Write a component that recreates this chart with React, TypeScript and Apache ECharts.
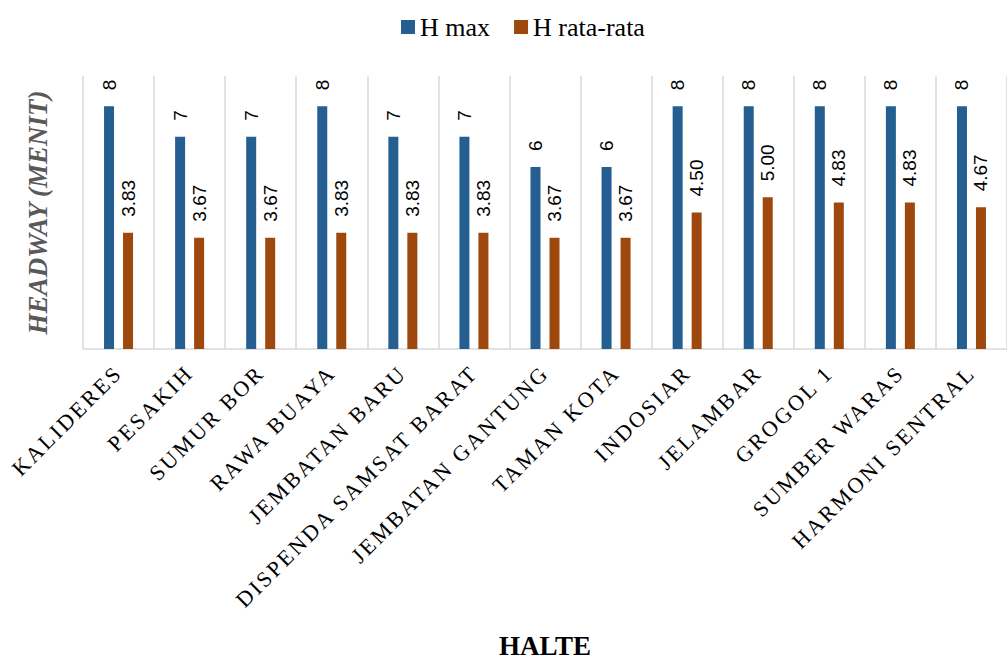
import React, { useEffect, useRef } from "react";
import * as echarts from "echarts";

const categories = [
  "KALIDERES",
  "PESAKIH",
  "SUMUR BOR",
  "RAWA BUAYA",
  "JEMBATAN BARU",
  "DISPENDA SAMSAT BARAT",
  "JEMBATAN GANTUNG",
  "TAMAN KOTA",
  "INDOSIAR",
  "JELAMBAR",
  "GROGOL 1",
  "SUMBER WARAS",
  "HARMONI SENTRAL",
];
const hMax = [8, 7, 7, 8, 7, 7, 6, 6, 8, 8, 8, 8, 8];
const hRata = [3.83, 3.67, 3.67, 3.83, 3.83, 3.83, 3.67, 3.67, 4.5, 5.0, 4.83, 4.83, 4.67];
const seriesNames = ["H max", "H rata-rata"];

const SERIF = "'Liberation Serif', serif";
const LABEL_SERIF = "'Times New Roman', serif";
const SANS = "'Liberation Sans', Arial, sans-serif";

export default function App() {
  const ref = useRef<HTMLDivElement>(null);
  useEffect(() => {
    if (!ref.current) return;
    const chart = echarts.init(ref.current, undefined, { renderer: "svg" });
    const valueLabel = (decimals: number) => ({
      show: true,
      position: "top" as const,
      rotate: 90,
      align: "left" as const,
      verticalAlign: "middle" as const,
      distance: 16,
      fontFamily: SANS,
      fontSize: 19,
      color: "#000",
      formatter: (p: any) => Number(p.value).toFixed(decimals),
    });
    chart.setOption({
      animation: false,
      backgroundColor: "#fff",
      legend: {
        top: 9,
        left: 396,
        itemWidth: 14,
        itemHeight: 14,
        itemGap: 24,
        icon: "rect",
        textStyle: { fontFamily: SERIF, fontSize: 26, color: "#000" },
        data: seriesNames,
      },
      grid: { left: 83, right: -8, top: 76, bottom: 308, containLabel: false },
      xAxis: {
        type: "category",
        data: categories,
        name: "HALTE",
        nameLocation: "middle",
        nameGap: 283,
        nameTextStyle: { fontFamily: SERIF, fontSize: 27, fontWeight: "bold", color: "#000" },
        axisLine: { show: true, lineStyle: { color: "#d9d9d9", width: 1.5 } },
        axisTick: { show: false },
        splitLine: { show: true, interval: 0, lineStyle: { color: "#d9d9d9", width: 1.5 } },
        axisLabel: {
          interval: 0,
          rotate: 45,
          margin: 20,
          fontFamily: LABEL_SERIF,
          fontSize: 22,
          color: "#000",
        },
      },
      yAxis: {
        type: "value",
        min: 0,
        max: 9,
        name: "HEADWAY (MENIT)",
        nameLocation: "middle",
        nameGap: 32,
        nameTextStyle: {
          fontFamily: SERIF,
          fontSize: 27,
          fontWeight: "bold",
          fontStyle: "italic",
          color: "#595959",
        },
        axisLine: { show: false },
        axisTick: { show: false },
        axisLabel: { show: false },
        splitLine: { show: false },
      },
      series: [
        {
          name: seriesNames[0],
          type: "bar",
          data: hMax,
          barWidth: 10,
          barGap: "90%",
          itemStyle: { color: "#255E91" },
          label: valueLabel(0),
        },
        {
          name: seriesNames[1],
          type: "bar",
          data: hRata,
          barWidth: 10,
          itemStyle: { color: "#9E480E" },
          label: valueLabel(2),
        },
      ],
    });
    return () => chart.dispose();
  }, []);
  return (
    <div className="hc" style={{ position: "fixed", left: 0, top: 0, width: 1007, height: 660, background: "#fff" }}>
      <style>{`.hc text[style*="Times New Roman"]{letter-spacing:2.6px;}`}</style>
      <div ref={ref} style={{ width: 1007, height: 660 }} />
    </div>
  );
}
